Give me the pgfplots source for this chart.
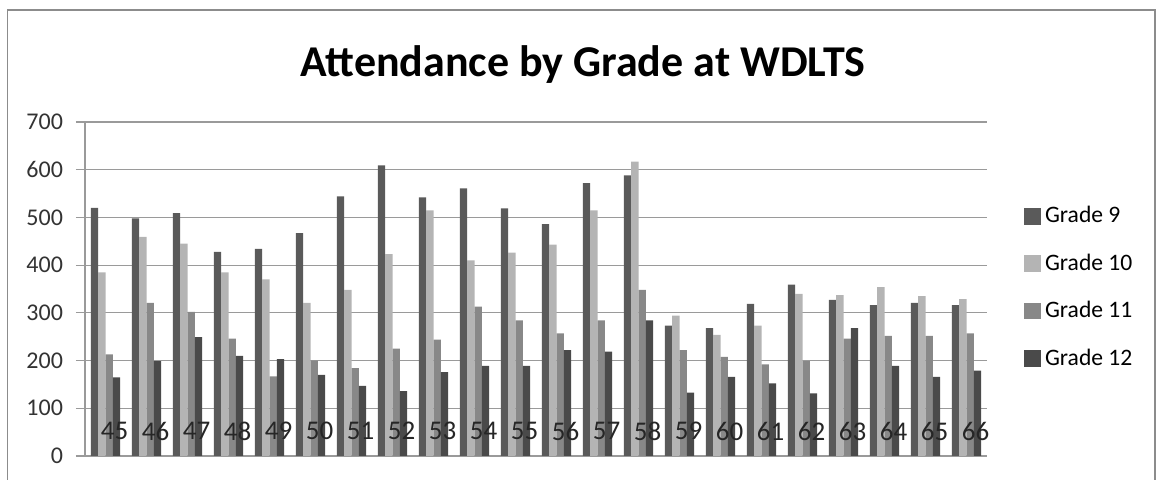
\documentclass[border=0pt]{standalone}
\usepackage{pgfplots}
\pgfplotsset{compat=1.18}
\usepackage{pgfplotstable}
\usepackage{fontspec}
\setmainfont{Carlito}

\definecolor{gnine}{HTML}{5A5A5A}
\definecolor{gten}{HTML}{B4B4B4}
\definecolor{geleven}{HTML}{888888}
\definecolor{gtwelve}{HTML}{4A4A4A}
\definecolor{gridgray}{HTML}{9A9A9A}
\definecolor{framegray}{HTML}{8C8C8C}

% Attendance per week number (45 ... 66), one column per grade
\pgfplotstableread{
idx wk  g9  g10 g11 g12
0   45  520 385 213 165
1   46  498 459 321 199
2   47  509 445 302 249
3   48  428 385 246 210
4   49  434 370 167 203
5   50  467 321 200 170
6   51  544 348 184 147
7   52  609 423 225 136
8   53  542 515 244 176
9   54  561 410 313 189
10  55  519 426 284 189
11  56  486 443 257 222
12  57  572 515 284 219
13  58  588 617 348 284
14  59  273 294 222 133
15  60  268 254 208 166
16  61  319 273 192 152
17  62  359 340 199 131
18  63  327 337 246 268
19  64  316 354 252 189
20  65  321 335 252 166
21  66  316 329 257 179
}\attendance

\begin{document}
\begin{tikzpicture}
% page area
\path (0,0) rectangle (579.5pt,240pt);
% chart frame (open at the bottom edge)
\draw[framegray, line width=0.8pt] (3.8pt,0pt) -- (3.8pt,235pt) -- (577.5pt,235pt) -- (577.5pt,0pt);
\node[font=\fontsize{22}{26}\selectfont\bfseries] at (291.5pt,207.5pt) {Attendance by Grade at WDLTS};
\begin{axis}[
  set layers=standard,
  at={(42.5pt,12pt)}, anchor=south west,
  scale only axis, width=451pt, height=167pt,
  ybar=0pt, bar width=0.178,
  xmin=-0.5, xmax=21.5, ymin=0, ymax=700,
  ytick={0,100,...,700},
  xtick=data,
  xticklabels from table={\attendance}{wk},
  axis x line*=bottom, axis y line*=left,
  x axis line style={gridgray, line width=0.6pt, shorten <=-4.5pt},
  y axis line style={gridgray, line width=0.6pt},
  ymajorgrids, grid style={gridgray, line width=0.6pt},
  major tick length=4.5pt, tick align=outside,
  xtick style={draw=none},
  ytick style={gridgray, line width=0.6pt},
  /pgf/number format/assume math mode=true,
  yticklabel style={font=\fontsize{12}{14}\selectfont, color=black!80, anchor=east, xshift=-3pt},
  % week numbers sit low inside the plot, written over the bars
  xticklabel style={/pgfplots/on layer=axis foreground,
    font=\fontsize{13.5}{15}\selectfont, color=black!85, anchor=center, yshift=17pt, xshift=4.5pt},
  legend style={at={(1.034,0.772)}, anchor=north west, draw=none, fill=none,
    font=\fontsize{11.8}{13}\selectfont, row sep=10pt,
    legend cell align=left},
  legend image code/.code={\fill[#1] (0pt,-4.2pt) rectangle (8.5pt,4.2pt);},
  every axis plot/.append style={draw=none},
]
\addplot[fill=gnine]    table[x=idx, y=g9]  {\attendance};
\addplot[fill=gten]     table[x=idx, y=g10] {\attendance};
\addplot[fill=geleven]  table[x=idx, y=g11] {\attendance};
\addplot[fill=gtwelve]  table[x=idx, y=g12] {\attendance};
\legend{Grade 9, Grade 10, Grade 11, Grade 12}
\end{axis}
\end{tikzpicture}
\end{document}
